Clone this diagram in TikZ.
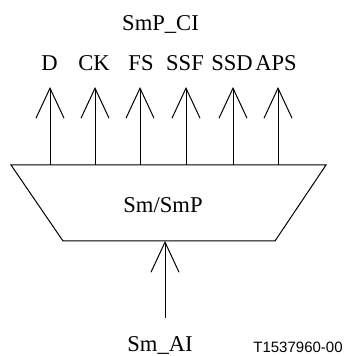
\documentclass[tikz,border=0pt]{standalone}
\usepackage{fontspec}
\setmainfont{Liberation Serif}
\newfontfamily\figfont{Liberation Sans}
\usetikzlibrary{arrows.meta,positioning}

\begin{document}
\begin{tikzpicture}[
    x=0.5pt, y=-0.5pt,
    line width=0.5pt,
    lbl/.style={font=\fontsize{11.3}{13}\selectfont, inner sep=0pt, anchor=base},
    sig/.style={-{Straight Barb[length=15pt, width=14pt, line width=0.5pt]}},
    tag/.style={font=\figfont\fontsize{7.5}{9}\selectfont, inner sep=0pt, anchor=base}
  ]
    \useasboundingbox (0,0) rectangle (348,356);

    % the block
    \coordinate (tl) at (11,165);
    \coordinate (tr) at (326,165);
    \coordinate (br) at (275,241);
    \coordinate (bl) at (63,241);
    \draw (tl) -- (tr) -- (br) -- (bl) -- cycle;
    \node[lbl] (blk) at (163,213) {Sm/SmP};

    % outputs
    \node[lbl] (ci) at (160.5,31) {SmP\_CI};
    \foreach \x/\lx/\nm/\txt in {50/49.5/d/D, 95/94/ck/CK, 140/141/fs/FS, 186/185/ssf/SSF, 233/232/ssd/SSD, 278/276/aps/APS} {
      \node[lbl] (\nm) at (\lx,71) {\txt};
      \coordinate (\nm-s) at (\x,165);
      \coordinate (\nm-t) at (\x,87);
      \draw[sig] (\nm-s) -- (\nm-t);
    }

    % input
    \node[lbl] (ai) at (160,351) {Sm\_AI};
    \coordinate (ai-s) at (165,318);
    \coordinate (ai-t) at (165,241);
    \draw[sig] (ai-s) -- (ai-t);

    \node[tag] (fig) at (298,352) {T1537960-00};
\end{tikzpicture}
\end{document}
